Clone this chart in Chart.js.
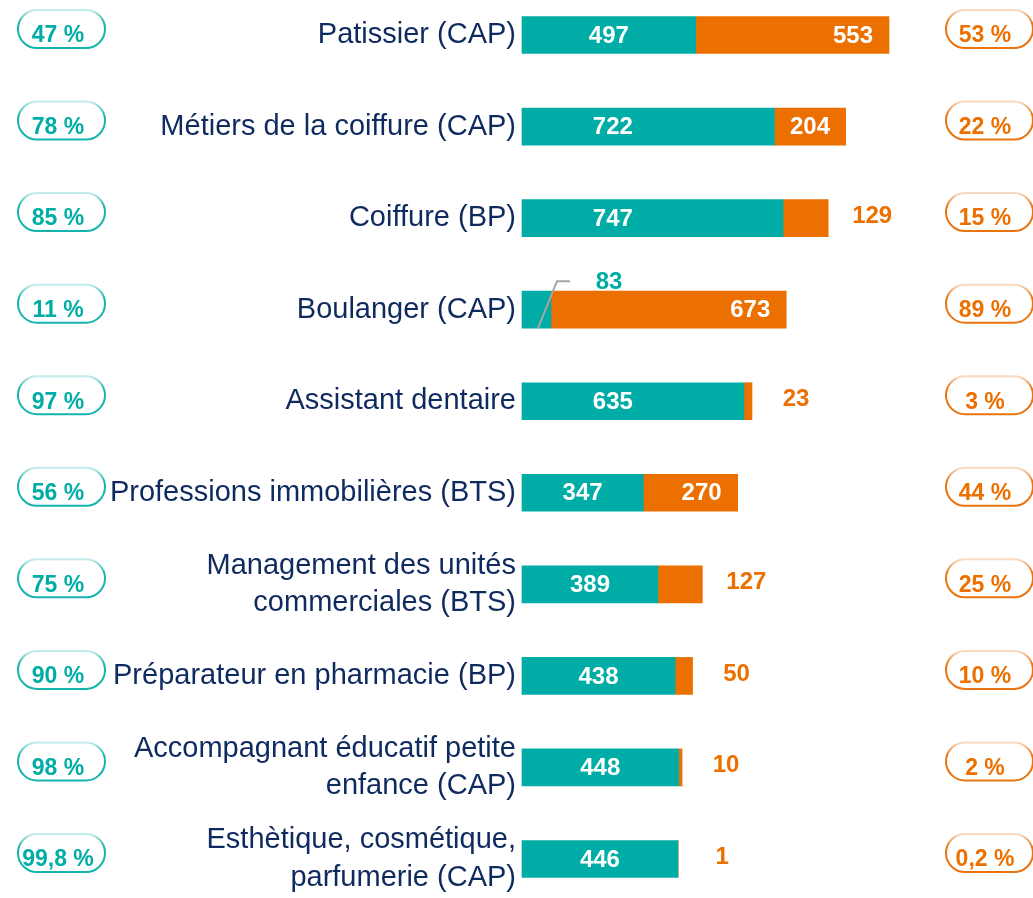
<!DOCTYPE html>
<html>
<head>
<meta charset="utf-8">
<script src="https://cdn.jsdelivr.net/npm/chart.js@4"></script>
<style>
  body { margin: 0; background: #fff; overflow: hidden; }
</style>
</head>
<body>
<canvas id="chart" width="1033" height="898"></canvas>
<script>
const categories = [
    'Patissier (CAP)',
    'Métiers de la coiffure (CAP)',
    'Coiffure (BP)',
    'Boulanger (CAP)',
    'Assistant dentaire',
    'Professions immobilières (BTS)',
    ['Management des unités', 'commerciales (BTS)'],
    'Préparateur en pharmacie (BP)',
    ['Accompagnant éducatif petite', 'enfance (CAP)'],
    ['Esthètique, cosmétique,', 'parfumerie (CAP)']
];
const tealValues = [497, 722, 747, 83, 635, 347, 389, 438, 448, 446];
const orangeValues = [553, 204, 129, 673, 23, 270, 127, 50, 10, 1];
const leftPct = ['47 %', '78 %', '85 %', '11 %', '97 %', '56 %', '75 %', '90 %', '98 %', '99,8 %'];
const rightPct = ['53 %', '22 %', '15 %', '89 %', '3 %', '44 %', '25 %', '10 %', '2 %', '0,2 %'];

const TEAL = '#00ADA6';
const ORANGE = '#EC7000';
const NAVY = '#0F2A5E';

function pill(ctx, cx, cy, color) {
    const w = 87, h = 38;
    const g = ctx.createLinearGradient(0, cy - h / 2, 0, cy + h / 2);
    g.addColorStop(0, color + '40');
    g.addColorStop(0.35, color);
    g.addColorStop(1, color);
    ctx.save();
    ctx.strokeStyle = g;
    ctx.lineWidth = 2;
    ctx.beginPath();
    ctx.roundRect(cx - w / 2, cy - h / 2, w, h, 19);
    ctx.stroke();
    ctx.restore();
}

const labelPlugin = {
    id: 'labels',
    afterDatasetsDraw(chart) {
        const ctx = chart.ctx;
        const xs = chart.scales.x;
        const m0 = chart.getDatasetMeta(0);
        const m1 = chart.getDatasetMeta(1);
        ctx.save();
        ctx.font = 'bold 24px "Liberation Sans", Arial, sans-serif';
        ctx.textBaseline = 'middle';
        ctx.textAlign = 'center';
        m0.data.forEach((bar, i) => {
            const y = bar.y;
            const w = bar.x - bar.base;
            const txt = String(tealValues[i]);
            if (w < 40) {
                // small segment: leader line, value above the bar
                const top = y - bar.height / 2;
                ctx.strokeStyle = '#A6A6A6';
                ctx.lineWidth = 2;
                ctx.beginPath();
                ctx.moveTo(bar.base + 16, top + bar.height);
                ctx.lineTo(bar.base + 35, top - 10);
                ctx.lineTo(bar.base + 48, top - 10);
                ctx.stroke();
                ctx.fillStyle = TEAL;
                ctx.fillText(txt, bar.base + 87, top - 9);
            } else {
                ctx.fillStyle = '#fff';
                ctx.fillText(txt, xs.getPixelForValue(Math.min(tealValues[i] / 2, 260)), y + 1);
            }
        });
        m1.data.forEach((bar, i) => {
            const y = bar.y;
            const w = bar.x - bar.base;
            const txt = String(orangeValues[i]);
            if (w < 60) {
                ctx.fillStyle = ORANGE;
                ctx.fillText(txt, bar.x + 44, y - 2);
            } else {
                const tw = ctx.measureText(txt).width;
                const cx = Math.max((bar.x + bar.base) / 2, bar.x - 16 - tw / 2);
                ctx.fillStyle = '#fff';
                ctx.fillText(txt, cx, y + 1);
            }
        });
        ctx.font = 'bold 23px "Liberation Sans", Arial, sans-serif';
        m0.data.forEach((bar, i) => {
            const y = bar.y;
            pill(ctx, 61.5, y - 6, '#14B4AD');
            pill(ctx, 989.5, y - 6, '#E8730F');
            ctx.fillStyle = TEAL;
            ctx.fillText(leftPct[i], 58, y + 1);
            ctx.fillStyle = ORANGE;
            ctx.fillText(rightPct[i], 985, y + 1);
        });
        ctx.restore();
    }
};

new Chart(document.getElementById('chart'), {
    type: 'bar',
    data: {
        labels: categories,
        datasets: [
            { data: tealValues, backgroundColor: TEAL, clip: false },
            { data: orangeValues, backgroundColor: ORANGE, clip: false }
        ]
    },
    options: {
        indexAxis: 'y',
        responsive: false,
        animation: false,
        barThickness: 37,
        layout: { padding: { top: 35, bottom: 39, left: 0, right: 0 } },
        plugins: { legend: { display: false }, tooltip: { enabled: false } },
        scales: {
            x: { stacked: true, display: false, min: 0, max: 1462 },
            y: {
                stacked: true,
                offset: false,
                grid: { display: false, drawTicks: false },
                border: { display: false },
                afterFit(scale) {
                    scale.width = 522;
                    scale.paddingTop = 0;
                    scale.paddingBottom = 0;
                },
                ticks: {
                    color: NAVY,
                    padding: 6,
                    font: { family: '"Liberation Sans", Arial, sans-serif', size: 29, lineHeight: 1.28 }
                }
            }
        }
    },
    plugins: [labelPlugin]
});
</script>
</body>
</html>
